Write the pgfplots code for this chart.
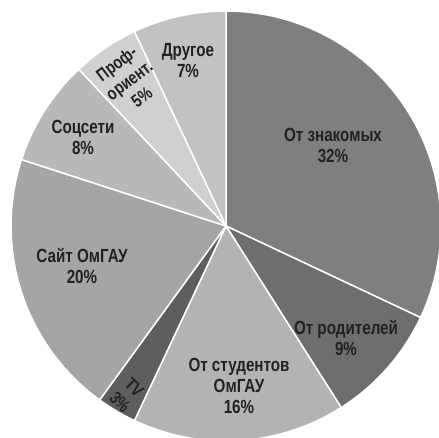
\documentclass[border=0pt]{standalone}
\usepackage{fontspec}
\setmainfont{Liberation Sans}[FakeStretch=0.8]
\usepackage{pgfplots}
\pgfplotsset{compat=1.18}
\definecolor{cA}{HTML}{7F7F7F}
\definecolor{cB}{HTML}{6E6E6E}
\definecolor{cC}{HTML}{B3B3B3}
\definecolor{cD}{HTML}{5E5E5E}
\definecolor{cE}{HTML}{A5A5A5}
\definecolor{cF}{HTML}{B8B8B8}
\definecolor{cG}{HTML}{D0D0D0}
\definecolor{cH}{HTML}{C2C2C2}
\definecolor{txt}{HTML}{222222}
% slice angles: start at 90 deg, clockwise, 3.6 deg per percent
% 32, 9, 16, 3, 20, 8, 5, 7 (%)
\begin{document}
\begin{tikzpicture}
\begin{axis}[x=1pt,y=1pt,xmin=0,xmax=439,ymin=0,ymax=437,
  hide axis,clip=true,scale only axis,
  every axis plot/.append style={draw=white,line width=1.5pt,samples=80,variable=\t},
  ]
\addplot[fill=cA,domain=-25.2:90]   ({226+215*cos(\t)},{211+215*sin(\t)}) -- (axis cs:226,211) -- cycle;
\addplot[fill=cB,domain=-57.6:-25.2]({226+215*cos(\t)},{211+215*sin(\t)}) -- (axis cs:226,211) -- cycle;
\addplot[fill=cC,domain=-115.2:-57.6]({226+215*cos(\t)},{211+215*sin(\t)}) -- (axis cs:226,211) -- cycle;
\addplot[fill=cD,domain=-126:-115.2]({226+215*cos(\t)},{211+215*sin(\t)}) -- (axis cs:226,211) -- cycle;
\addplot[fill=cE,domain=-198:-126]  ({226+215*cos(\t)},{211+215*sin(\t)}) -- (axis cs:226,211) -- cycle;
\addplot[fill=cF,domain=-226.8:-198]({226+215*cos(\t)},{211+215*sin(\t)}) -- (axis cs:226,211) -- cycle;
\addplot[fill=cG,domain=-244.8:-226.8]({226+215*cos(\t)},{211+215*sin(\t)}) -- (axis cs:226,211) -- cycle;
\addplot[fill=cH,domain=-270:-244.8]({226+215*cos(\t)},{211+215*sin(\t)}) -- (axis cs:226,211) -- cycle;
\tikzset{lab/.style={text=txt,font=\fontsize{19}{21}\selectfont\bfseries,align=center,inner sep=0pt}}
\node[lab] at (axis cs:333,292) {От знакомых\\32\%};
\node[lab] at (axis cs:346,99) {От родителей\\9\%};
\node[lab] at (axis cs:239,51) {От студентов\\ОмГАУ\\16\%};
\node[lab,rotate=-45,font=\fontsize{18}{20}\selectfont\bfseries] at (axis cs:127,42) {TV\\3\%};
\node[lab] at (axis cs:82,171) {Сайт ОмГАУ\\20\%};
\node[lab] at (axis cs:83,300) {Соцсети\\8\%};
\node[lab,rotate=37,font=\fontsize{18}{21}\selectfont\bfseries] at (axis cs:129,357) {Проф-\\ориент.\\5\%};
\node[lab] at (axis cs:188,376) {Другое\\7\%};
\coordinate (bl) at (rel axis cs:0,0);
\coordinate (tr) at (rel axis cs:1,1);
\end{axis}
\pgfresetboundingbox
\useasboundingbox (bl) rectangle (tr);
\end{tikzpicture}
\end{document}
